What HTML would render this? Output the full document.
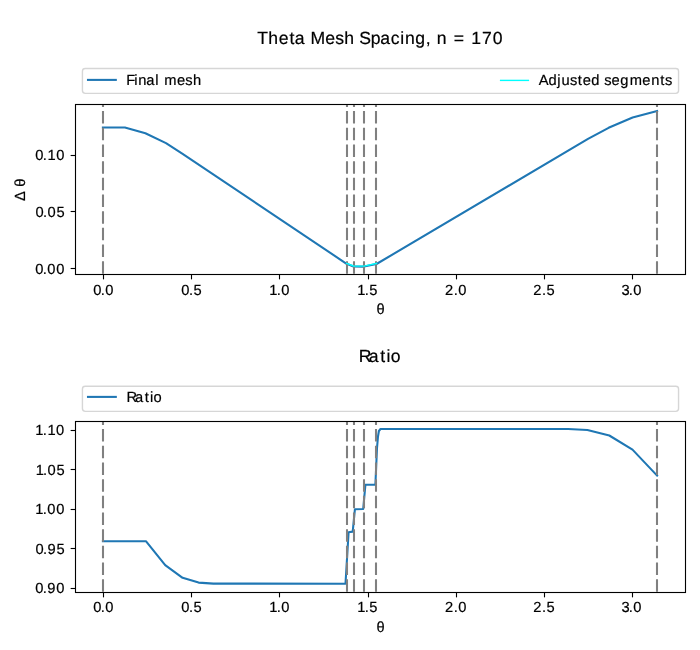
<!DOCTYPE html>
<html><head><meta charset="utf-8"><title>Theta Mesh Spacing</title><style>
html,body{margin:0;padding:0;background:#fff;}
svg{display:block;will-change:transform;}
text{font-family:"Liberation Sans",sans-serif;fill:#000;stroke:#000;stroke-width:0.2px;text-rendering:geometricPrecision;}
</style></head><body>
<svg width="700" height="650" viewBox="0 0 700 650">
<rect width="700" height="650" fill="#fff"/>
<clipPath id="c104"><rect x="75.5" y="104.5" width="610.0" height="170.0"/></clipPath>
<g clip-path="url(#c104)">
<polyline points="102.90,127.50 124.90,127.50 145.40,133.30 166.00,143.10 182.60,153.80 346.60,263.80 353.50,266.50 364.00,266.60 376.50,264.00 588.00,138.90 608.60,127.80 632.60,117.50 657.10,111.00" fill="none" stroke="#1f77b4" stroke-width="2.08" stroke-linejoin="round" stroke-linecap="square"/>
<line x1="103.0" y1="273.65" x2="103.0" y2="104.5" stroke="#808080" stroke-width="2.08" stroke-dasharray="12.5 4.17"/>
<line x1="347.0" y1="273.65" x2="347.0" y2="104.5" stroke="#808080" stroke-width="2.08" stroke-dasharray="12.5 4.17"/>
<line x1="354.0" y1="273.65" x2="354.0" y2="104.5" stroke="#808080" stroke-width="2.08" stroke-dasharray="12.5 4.17"/>
<line x1="364.0" y1="273.65" x2="364.0" y2="104.5" stroke="#808080" stroke-width="2.08" stroke-dasharray="12.5 4.17"/>
<line x1="376.0" y1="273.65" x2="376.0" y2="104.5" stroke="#808080" stroke-width="2.08" stroke-dasharray="12.5 4.17"/>
<line x1="657.0" y1="273.65" x2="657.0" y2="104.5" stroke="#808080" stroke-width="2.08" stroke-dasharray="12.5 4.17"/>
<polyline points="346.60,263.30 353.50,266.00 364.00,266.10 376.50,263.40" fill="none" stroke="#00ffff" stroke-width="1.39" stroke-linejoin="round" stroke-linecap="square"/>
</g>
<rect x="75.5" y="104.5" width="610.0" height="170.0" fill="none" stroke="#000" stroke-width="1.11"/>
<line x1="103.5" y1="274.5" x2="103.5" y2="279.36" stroke="#000" stroke-width="1.11"/>
<line x1="191.5" y1="274.5" x2="191.5" y2="279.36" stroke="#000" stroke-width="1.11"/>
<line x1="279.5" y1="274.5" x2="279.5" y2="279.36" stroke="#000" stroke-width="1.11"/>
<line x1="368.5" y1="274.5" x2="368.5" y2="279.36" stroke="#000" stroke-width="1.11"/>
<line x1="456.5" y1="274.5" x2="456.5" y2="279.36" stroke="#000" stroke-width="1.11"/>
<line x1="544.5" y1="274.5" x2="544.5" y2="279.36" stroke="#000" stroke-width="1.11"/>
<line x1="632.5" y1="274.5" x2="632.5" y2="279.36" stroke="#000" stroke-width="1.11"/>
<text x="93.32 100.87 105.37" y="295" font-size="14.7">0.0</text>
<text x="181.35 188.90 193.51" y="295" font-size="14.7">0.5</text>
<text x="269.30 276.70 281.19" y="295" font-size="14.7">1.0</text>
<text x="357.31 364.71 369.32" y="295" font-size="14.7">1.5</text>
<text x="445.11 453.77 458.27" y="295" font-size="14.7">2.0</text>
<text x="533.24 541.90 546.51" y="295" font-size="14.7">2.5</text>
<text x="621.46 628.77 633.28" y="295" font-size="14.7">3.0</text>
<line x1="75.5" y1="268.5" x2="70.64" y2="268.5" stroke="#000" stroke-width="1.11"/>
<text x="35.26 42.81 47.31 56.20" y="274" font-size="14.7">0.00</text>
<line x1="75.5" y1="211.5" x2="70.64" y2="211.5" stroke="#000" stroke-width="1.11"/>
<text x="35.52 43.07 47.57 56.56" y="217" font-size="14.7">0.05</text>
<line x1="75.5" y1="155.5" x2="70.64" y2="155.5" stroke="#000" stroke-width="1.11"/>
<text x="35.14 42.68 47.42 56.14" y="160" font-size="14.7">0.10</text>
<text x="376.51" y="314" font-size="14.7">θ</text>
<text transform="translate(25.0,0) rotate(-90)" x="-201.09 -196.09 -186.85" y="0" font-size="14.7">Δ θ</text>
<rect x="82.44" y="68.45" width="596.12" height="24.95" rx="2.78" ry="2.78" fill="#fff" fill-opacity="0.8" stroke="#cccccc" stroke-opacity="0.8" stroke-width="1.39"/>
<line x1="88.0" y1="79.9" x2="115.8" y2="79.9" stroke="#1f77b4" stroke-width="2.08" stroke-linecap="square"/>
<text x="126.27 134.19 138.19 146.29 155.25 160.25 164.15 176.99 185.35 193.02" y="85" font-size="14.7">Final mesh</text>
<line x1="500.6" y1="80.4" x2="528.4" y2="80.4" stroke="#00ffff" stroke-width="1.39" stroke-linecap="square"/>
<text x="538.82 548.38 557.26 561.38 569.93 577.71 582.68 591.25 596.25 604.18 611.46 620.17 629.64 642.33 651.36 660.27 665.02" y="85" font-size="14.7">Adjusted segments</text>
<text x="257.34 268.31 278.86 289.56 294.79 299.79 310.52 325.20 335.35 344.31 349.31 359.25 370.72 380.29 390.70 400.35 405.09 415.25 425.81 430.81 436.66 441.66 453.70 458.70 471.36 482.07 492.64" y="44" font-size="17.6">Theta Mesh Spacing, n = 170</text>
<clipPath id="c421"><rect x="75.5" y="421.5" width="610.0" height="171.0"/></clipPath>
<g clip-path="url(#c421)">
<polyline points="102.90,541.20 145.90,541.20 165.20,565.20 182.60,577.80 198.60,582.60 213.40,583.60 345.50,583.70 348.60,532.20 352.70,531.60 354.90,509.30 363.20,509.00 365.40,484.80 375.40,484.60 377.00,448.00 378.00,436.50 378.90,431.00 380.50,429.00 568.10,429.00 587.40,430.00 609.30,435.50 632.50,449.60 657.10,475.60" fill="none" stroke="#1f77b4" stroke-width="2.08" stroke-linejoin="round" stroke-linecap="square"/>
<line x1="103.0" y1="591.65" x2="103.0" y2="421.5" stroke="#808080" stroke-width="2.08" stroke-dasharray="12.5 4.17"/>
<line x1="347.0" y1="591.65" x2="347.0" y2="421.5" stroke="#808080" stroke-width="2.08" stroke-dasharray="12.5 4.17"/>
<line x1="354.0" y1="591.65" x2="354.0" y2="421.5" stroke="#808080" stroke-width="2.08" stroke-dasharray="12.5 4.17"/>
<line x1="364.0" y1="591.65" x2="364.0" y2="421.5" stroke="#808080" stroke-width="2.08" stroke-dasharray="12.5 4.17"/>
<line x1="376.0" y1="591.65" x2="376.0" y2="421.5" stroke="#808080" stroke-width="2.08" stroke-dasharray="12.5 4.17"/>
<line x1="657.0" y1="591.65" x2="657.0" y2="421.5" stroke="#808080" stroke-width="2.08" stroke-dasharray="12.5 4.17"/>
</g>
<rect x="75.5" y="421.5" width="610.0" height="171.0" fill="none" stroke="#000" stroke-width="1.11"/>
<line x1="103.5" y1="592.5" x2="103.5" y2="597.36" stroke="#000" stroke-width="1.11"/>
<line x1="191.5" y1="592.5" x2="191.5" y2="597.36" stroke="#000" stroke-width="1.11"/>
<line x1="279.5" y1="592.5" x2="279.5" y2="597.36" stroke="#000" stroke-width="1.11"/>
<line x1="368.5" y1="592.5" x2="368.5" y2="597.36" stroke="#000" stroke-width="1.11"/>
<line x1="456.5" y1="592.5" x2="456.5" y2="597.36" stroke="#000" stroke-width="1.11"/>
<line x1="544.5" y1="592.5" x2="544.5" y2="597.36" stroke="#000" stroke-width="1.11"/>
<line x1="632.5" y1="592.5" x2="632.5" y2="597.36" stroke="#000" stroke-width="1.11"/>
<text x="93.32 100.87 105.37" y="612" font-size="14.7">0.0</text>
<text x="181.35 188.90 193.51" y="612" font-size="14.7">0.5</text>
<text x="269.30 276.70 281.19" y="612" font-size="14.7">1.0</text>
<text x="357.31 364.71 369.32" y="612" font-size="14.7">1.5</text>
<text x="445.11 453.77 458.27" y="612" font-size="14.7">2.0</text>
<text x="533.24 541.90 546.51" y="612" font-size="14.7">2.5</text>
<text x="621.46 628.77 633.28" y="612" font-size="14.7">3.0</text>
<line x1="75.5" y1="588.5" x2="70.64" y2="588.5" stroke="#000" stroke-width="1.11"/>
<text x="35.14 42.68 47.25 56.14" y="593" font-size="14.7">0.90</text>
<line x1="75.5" y1="548.5" x2="70.64" y2="548.5" stroke="#000" stroke-width="1.11"/>
<text x="35.39 42.94 47.50 56.49" y="554" font-size="14.7">0.95</text>
<line x1="75.5" y1="509.5" x2="70.64" y2="509.5" stroke="#000" stroke-width="1.11"/>
<text x="35.37 42.77 47.26 56.13" y="514" font-size="14.7">1.00</text>
<line x1="75.5" y1="469.5" x2="70.64" y2="469.5" stroke="#000" stroke-width="1.11"/>
<text x="35.63 43.03 47.52 56.49" y="475" font-size="14.7">1.05</text>
<line x1="75.5" y1="430.5" x2="70.64" y2="430.5" stroke="#000" stroke-width="1.11"/>
<text x="35.24 42.64 47.38 56.06" y="435" font-size="14.7">1.10</text>
<text x="376.51" y="632" font-size="14.7">θ</text>
<rect x="82.44" y="386.3" width="596.12" height="25.10" rx="2.78" ry="2.78" fill="#fff" fill-opacity="0.8" stroke="#cccccc" stroke-opacity="0.8" stroke-width="1.39"/>
<line x1="88.0" y1="396.9" x2="115.8" y2="396.9" stroke="#1f77b4" stroke-width="2.08" stroke-linecap="square"/>
<text x="126.61 135.10 144.76 150.01 153.46" y="402" font-size="14.7">Ratio</text>
<text x="358.70 368.81 380.25 386.48 390.82" y="362" font-size="17.6">Ratio</text>
</svg>
</body></html>
